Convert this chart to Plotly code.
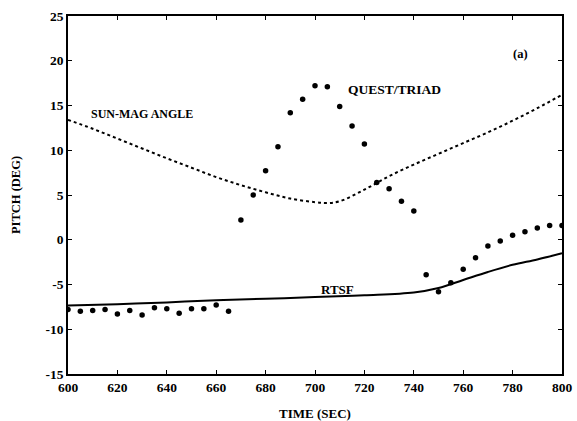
import plotly.graph_objects as go

# QUEST/TRIAD estimates (dots)
quest_t = [600, 605, 610, 615, 620, 625, 630, 635, 640, 645, 650, 655, 660, 665,
           670, 675, 680, 685, 690, 695, 700, 705, 710, 715, 720, 725, 730, 735, 740,
           745, 750, 755, 760, 765, 770, 775, 780, 785, 790, 795, 800]
quest_pitch = [-7.8, -8.0, -7.9, -7.8, -8.3, -7.9, -8.4, -7.6, -7.7, -8.2, -7.7, -7.7, -7.3, -8.0,
               2.2, 5.0, 7.7, 10.4, 14.2, 15.7, 17.2, 17.1, 14.9, 12.7, 10.7, 6.4, 5.7, 4.3, 3.2,
               -3.9, -5.8, -4.8, -3.3, -2.0, -0.7, -0.15, 0.5, 0.9, 1.3, 1.6, 1.6]

# Sun-Mag angle (dashed)
sun_t = [600, 610, 620, 630, 640, 650, 660, 670, 680, 690, 700, 705, 710, 720, 730, 740, 750, 760, 770, 780, 790, 800]
sun_pitch = [13.4, 12.4, 11.3, 10.2, 9.1, 8.05, 7.0, 6.1, 5.3, 4.6, 4.2, 4.1, 4.3, 5.6, 7.1, 8.4, 9.6, 10.8, 12.0, 13.3, 14.7, 16.2]

# RTSF (solid)
rtsf_t = [600, 620, 640, 660, 680, 700, 720, 740, 750, 760, 770, 780, 790, 800]
rtsf_pitch = [-7.35, -7.2, -7.0, -6.75, -6.6, -6.4, -6.2, -5.9, -5.4, -4.5, -3.6, -2.8, -2.2, -1.5]

x_ticks = [600, 620, 640, 660, 680, 700, 720, 740, 760, 780, 800]
x_ticklabels = [str(v) for v in x_ticks]
y_ticks = [-15, -10, -5, 0, 5, 10, 15, 20, 25]
y_ticklabels = ["-15", "-10", "-5", "0", "5", "10", "15", "20", "25"]

FONT = "Liberation Serif"

fig = go.Figure()
fig.add_trace(go.Scatter(x=sun_t, y=sun_pitch, mode="lines",
                         line=dict(color="black", width=2, dash="3px,3px"),
                         line_shape="spline", showlegend=False))
fig.add_trace(go.Scatter(x=rtsf_t, y=rtsf_pitch, mode="lines",
                         line=dict(color="black", width=2), line_shape="spline",
                         showlegend=False))
fig.add_trace(go.Scatter(x=quest_t, y=quest_pitch, mode="markers",
                         marker=dict(color="black", size=5.5),
                         showlegend=False))

annots = [
    dict(x=630, y=14.1, text="SUN-MAG ANGLE", size=12),
    dict(x=732, y=16.8, text="QUEST/TRIAD", size=13.5),
    dict(x=709, y=-5.6, text="RTSF", size=13),
    dict(x=783, y=20.8, text="(a)", size=12.5),
]
for a in annots:
    fig.add_annotation(x=a["x"], y=a["y"], text=a["text"], showarrow=False,
                       font=dict(family=FONT, size=a["size"], color="black", weight="bold"))

axis_common = dict(showgrid=False, zeroline=False, showline=True, linecolor="black",
                   linewidth=1.5, mirror="ticks", ticks="inside", ticklen=4,
                   tickcolor="black", automargin=False,
                   tickfont=dict(family=FONT, size=13.5, color="black", weight="bold"))
fig.update_xaxes(range=[600, 800], tickvals=x_ticks, ticktext=x_ticklabels,
                 title=dict(text="TIME (SEC)",
                            font=dict(family=FONT, size=13, color="black", weight="bold"),
                            standoff=19),
                 **axis_common)
fig.update_yaxes(range=[-15, 25], tickvals=y_ticks, ticktext=y_ticklabels,
                 title=dict(text="PITCH (DEG)",
                            font=dict(family=FONT, size=12.5, color="black", weight="bold"),
                            standoff=22),
                 **axis_common)
fig.update_layout(width=577, height=421, margin=dict(l=68, r=15, t=16, b=47),
                  plot_bgcolor="white", paper_bgcolor="white")
fig.write_html("out.html")
